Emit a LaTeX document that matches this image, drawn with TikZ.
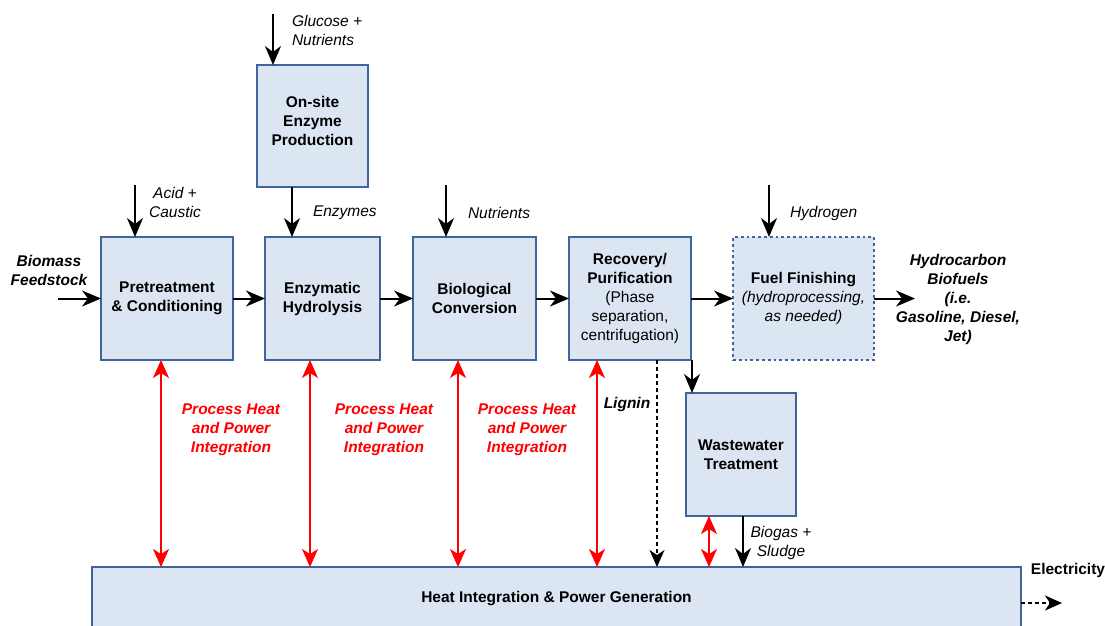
\documentclass[tikz,border=0pt]{standalone}
\usepackage{fontspec}
\setmainfont{Liberation Sans}
\usetikzlibrary{arrows.meta,calc}
\definecolor{boxfill}{HTML}{DCE6F2}
\definecolor{boxline}{HTML}{41659A}
\begin{document}
\begin{tikzpicture}[x=1pt,y=-1pt,
  every node/.style={font=\fontsize{15.5}{19}\selectfont, inner sep=0pt, outer sep=0pt},
  proc/.style={draw=boxline, fill=boxfill, line width=2pt, align=center, font=\fontsize{15.5}{19}\selectfont\bfseries},
  lab/.style={align=center, font=\fontsize{15.5}{19}\selectfont\itshape},
  blab/.style={align=center, font=\fontsize{15.5}{19}\selectfont\bfseries\itshape},
  rlab/.style={align=center, text=red, font=\fontsize{15.5}{19}\selectfont\bfseries\itshape},
  flow/.style={line width=2pt, -{Stealth[length=19pt,width=16pt,inset=6pt]}},
  redflow/.style={red, line width=1.8pt, {Stealth[length=18pt,width=16pt,inset=5pt]}-{Stealth[length=18pt,width=16pt,inset=5pt]}},
  dotflow/.style={line width=1.8pt, dash pattern=on 4pt off 3pt, -{Stealth[length=17pt,width=15pt,inset=5pt]}}
]
\useasboundingbox (0,0) rectangle (1105,625);
\fill[white] (0,0) rectangle (1105,625);

% process boxes
\node[proc, minimum width=132pt, minimum height=123pt] (pre) at (167,298.5) {Pretreatment\\\& Conditioning};
\node[proc, minimum width=115pt, minimum height=123pt] (enz) at (322.5,298.5) {Enzymatic\\Hydrolysis};
\node[proc, minimum width=123pt, minimum height=123pt] (bio) at (474.5,298.5) {Biological\\Conversion};
\node[proc, minimum width=122pt, minimum height=123pt] (rec) at (630,298.5) {Recovery/\\Purification\\{\mdseries (Phase}\\{\mdseries separation,}\\{\mdseries centrifugation)}};
\node[proc, line width=2.8pt, dash pattern=on 2.8pt off 3pt, minimum width=141pt, minimum height=123pt] (fuel) at (803.5,298.5) {Fuel Finishing\\{\mdseries\itshape (hydroprocessing,}\\{\mdseries\itshape as needed)}};
\node[proc, minimum width=111pt, minimum height=122pt, text depth=10pt] (onsite) at (312.5,126) {On-site\\Enzyme\\Production};
\node[proc, minimum width=110pt, minimum height=123pt] (ww) at (741,454.5) {Wastewater\\Treatment};
\node[proc, minimum width=929pt, minimum height=63pt] (heat) at (556.5,598.5) {Heat Integration \& Power Generation};

% inputs from top
\coordinate (gl) at (273,14);
\draw[flow] (gl) -- (gl |- onsite.north);
\node[lab, align=left, anchor=west] (gltxt) at (292,30.5) {Glucose +\\Nutrients};

\coordinate (ez) at (292,0);
\draw[flow] (ez |- onsite.south) -- (ez |- enz.north);
\node[lab, anchor=west] (eztxt) at (313,213) {Enzymes};

\coordinate (ac) at (135,185);
\draw[flow] (ac) -- (ac |- pre.north);
\node[lab] (actxt) at (175,202.5) {Acid +\\Caustic};

\coordinate (nu) at (446,185);
\draw[flow] (nu) -- (nu |- bio.north);
\node[lab, anchor=west] (nutxt) at (468,213) {Nutrients};

\coordinate (hy) at (769,185);
\draw[flow] (hy) -- (hy |- fuel.north);
\node[lab, anchor=west] (hytxt) at (790,213) {Hydrogen};

% main line
\coordinate (bm) at (58,298.5);
\draw[flow] (bm) -- (pre.west);
\node[blab] (bmtxt) at (49,270.5) {Biomass\\Feedstock};
\draw[flow] (pre.east) -- (enz.west);
\draw[flow] (enz.east) -- (bio.west);
\draw[flow] (bio.east) -- (rec.west);
\draw[flow] (rec.east) -- (fuel.west);
\coordinate (hc) at (915,298.5);
\draw[flow] (fuel.east) -- (hc);
\node[blab] (hctxt) at (958,299) {Hydrocarbon\\Biofuels\\(i.e.\\Gasoline, Diesel,\\Jet)};

% red heat/power integration arrows
\coordinate (r1) at (161,0);
\coordinate (r2) at (310,0);
\coordinate (r3) at (458,0);
\coordinate (r4) at (597,0);
\coordinate (r5) at (709,0);
\draw[redflow] (r1 |- pre.south) -- (r1 |- heat.north);
\draw[redflow] (r2 |- enz.south) -- (r2 |- heat.north);
\draw[redflow] (r3 |- bio.south) -- (r3 |- heat.north);
\draw[redflow] (r4 |- rec.south) -- (r4 |- heat.north);
\draw[redflow] (r5 |- ww.south) -- (r5 |- heat.north);
\node[rlab] (p1) at (231,430) {Process Heat\\and Power\\Integration};
\node[rlab] (p2) at (384,430) {Process Heat\\and Power\\Integration};
\node[rlab] (p3) at (527,430) {Process Heat\\and Power\\Integration};

% lignin
\coordinate (lg) at (657,0);
\draw[dotflow] (lg |- rec.south) -- (lg |- heat.north);
\node[blab] (lgtxt) at (627,404) {Lignin};

% wastewater
\coordinate (wa) at (692,0);
\draw[flow] (wa |- rec.south) -- (wa |- ww.north);
\coordinate (bg) at (743,0);
\draw[flow] (bg |- ww.south) -- (bg |- heat.north);
\node[lab] (bgtxt) at (781,542.5) {Biogas +\\Sludge};

% electricity
\coordinate (el) at (1062,603);
\draw[dotflow] (heat.east |- el) -- (el);
\node[font=\fontsize{15.5}{19}\selectfont\bfseries] (eltxt) at (1068,570) {Electricity};
\end{tikzpicture}
\end{document}
